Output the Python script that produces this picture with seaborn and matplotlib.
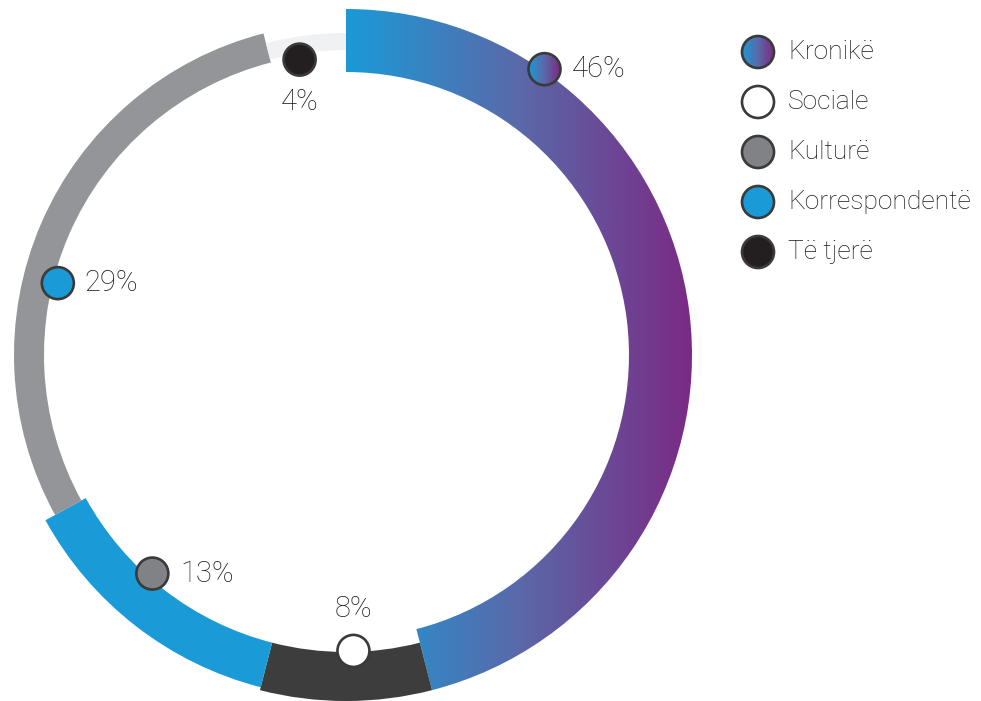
import numpy as np
import pandas as pd
import matplotlib
matplotlib.use("Agg")
import matplotlib.pyplot as plt
from matplotlib.patches import Wedge, Circle
from matplotlib.colors import LinearSegmentedColormap
import seaborn as sns

# Dados
categories = ["Kronikë", "Sociale", "Kulturë", "Korrespondentë", "Të tjerë"]
shares = [46, 8, 13, 29, 4]
marker_colors = ["gradient", "#ffffff", "#808285", "#1a9ad6", "#231f20"]
ring_colors = ["gradient", "#3d3d3d", "#1a9ad6", "#939598", "#f0f1f2"]

sns.set_theme(style="white")
plt.rcParams["font.family"] = ["Roboto", "DejaVu Sans"]

grad_cmap = LinearSegmentedColormap.from_list("kron", ["#1b9ad7", "#5a69a9", "#7b2a84"])
text_color = "#1a1a1a"
edge_color = "#3a3a3a"

fig = plt.figure(figsize=(9.81, 7.01), dpi=100)
ax = fig.add_axes([0, 0, 1, 1])
ax.set_xlim(0, 981)
ax.set_ylim(701, 0)
ax.set_aspect("equal")
ax.axis("off")

cx, cy = 346, 355
# raio interno / externo de cada segmento
ring_r = [(283, 346), (297, 346), (297, 343), (302, 332), (305, 322)]
# posicao do marcador dentro do segmento
mark_frac = [0.21, 0.45, 0.58, 0.41, 0.38]
mark_r = [348, 296, 292, 297, 299]
mark_rad = 16
label_off = [(27, 0, "left", "center"), (0, -42, "center", "center"),
             (28, 0, "left", "center"), (27, 0, "left", "center"),
             (0, 42, "center", "center")]

grad = np.linspace(0, 1, 256).reshape(1, -1)


def draw_gradient(patch, x0, x1, y0, y1):
    ax.add_patch(patch)
    im = ax.imshow(grad, cmap=grad_cmap, aspect="auto", extent=[x0, x1, y1, y0],
                   interpolation="bicubic", zorder=patch.get_zorder())
    im.set_clip_path(patch)


start = 0.0
points = []
for i, (cat, val) in enumerate(zip(categories, shares)):
    span = val / sum(shares) * 360
    r_in, r_out = ring_r[i]
    w = Wedge((cx, cy), r_out, start - 90, start + span - 90, width=r_out - r_in,
              facecolor=ring_colors[i] if ring_colors[i] != "gradient" else "none",
              edgecolor="none", zorder=1)
    if ring_colors[i] == "gradient":
        draw_gradient(w, cx, cx + r_out, cy - r_out, cy + r_out)
    else:
        ax.add_patch(w)
    phi = np.deg2rad(start + mark_frac[i] * span)
    mx = cx + mark_r[i] * np.sin(phi)
    my = cy - mark_r[i] * np.cos(phi)
    points.append((mx, my))
    dx, dy, ha, va = label_off[i]
    ax.text(mx + dx, my + dy, f"{val}%", ha=ha, va=va, fontsize=21,
            fontweight="light", color=text_color, zorder=5)
    start += span

# legenda
leg_x, leg_y0, leg_step = 758, 52, 50
legend_pts = [(leg_x, leg_y0 + k * leg_step) for k in range(len(categories))]
for k, cat in enumerate(categories):
    ax.text(leg_x + 30, legend_pts[k][1], cat, ha="left", va="center", fontsize=19,
            fontweight="light", color=text_color)

# marcadores
all_pts = points + legend_pts
cols = marker_colors + marker_colors
for (mx, my), col in zip(all_pts, cols):
    if col == "gradient":
        c = Circle((mx, my), mark_rad, facecolor="none", edgecolor="none", zorder=3)
        draw_gradient(c, mx - mark_rad, mx + mark_rad, my - mark_rad, my + mark_rad)
        ax.add_patch(Circle((mx, my), mark_rad, facecolor="none", edgecolor=edge_color,
                            linewidth=1.9, zorder=4))
    else:
        ax.add_patch(Circle((mx, my), mark_rad, facecolor=col, edgecolor=edge_color,
                            linewidth=1.9, zorder=4))

fig.savefig("out.png", dpi=100)
plt.close()
